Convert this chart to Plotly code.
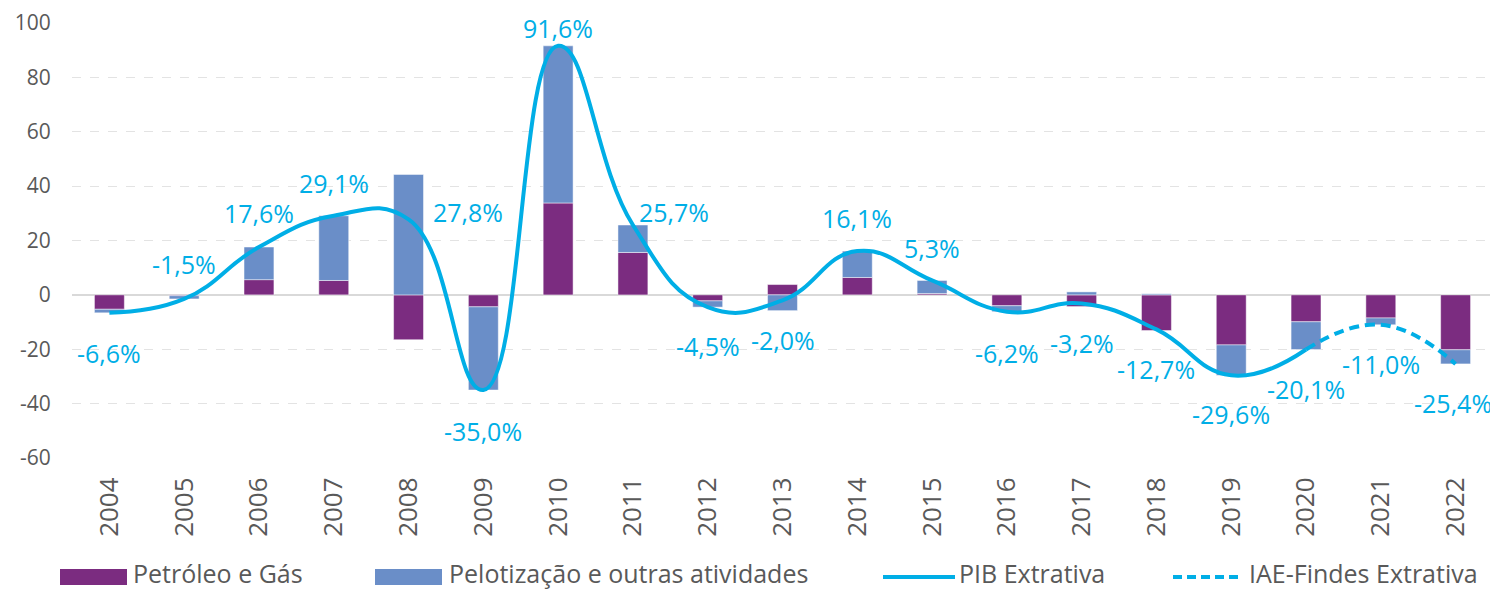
import plotly.graph_objects as go

# ---- data ----
years = [str(y) for y in range(2004, 2023)]
petroleo = [-5.3, -0.3, 5.6, 5.3, -16.5, -4.4, 33.8, 15.6, -2.2, 3.8,
            6.4, 0.5, -4.0, -4.3, -13.1, -18.4, -9.9, -8.5, -20.2]
pelotizacao = [-1.3, -1.2, 12.0, 23.8, 44.3, -30.6, 57.8, 10.1, -2.3, -5.8,
               9.7, 4.8, -2.2, 1.1, 0.4, -11.2, -10.2, -2.5, -5.2]
pib_years = years[:17]
pib = [-6.6, -1.5, 17.6, 29.1, 27.8, -35.0, 91.6, 25.7, -4.5, -2.0,
       16.1, 5.3, -6.2, -3.2, -12.7, -29.6, -20.1]
iae_years = ["2020", "2021", "2022"]
iae = [-20.1, -11.0, -25.4]
y_ticks = [-60, -40, -20, 0, 20, 40, 60, 80, 100]
y_tick_labels = [str(v) for v in y_ticks]

# ---- label placement (layout) ----
label_vals = pib + iae[1:]
label_y = [-21.4, 11.4, 30.2, 41.3, 30.6, -50.1, 98.3, 30.6, -18.8, -16.6,
           28.4, 17.3, -21.4, -17.7, -27.3, -43.8, -34.6, -25.4, -39.8]
label_dx = [0, 0, 0, 0, 59, 0, 0, 41, 0, 0, 0, 0, 0, 0, 0, 0, 0, 0, -3]

PURPLE = "#7B2C80"
BLUE = "#6A8EC8"
CYAN = "#00AEE6"
GREY = "#595959"
FONT = "Open Sans"

fig = go.Figure()
fig.add_trace(go.Bar(x=years, y=petroleo, name="Petróleo e Gás",
                     marker=dict(color=PURPLE, line=dict(color="rgba(255,255,255,0.6)", width=0.8))))
fig.add_trace(go.Bar(x=years, y=pelotizacao, name="Pelotização e outras atividades",
                     marker=dict(color=BLUE, line=dict(color="rgba(255,255,255,0.6)", width=0.8))))
fig.add_trace(go.Scatter(x=pib_years, y=pib, name="PIB Extrativa", mode="lines",
                         line=dict(color=CYAN, width=4, shape="spline", smoothing=1.3)))
fig.add_trace(go.Scatter(x=iae_years, y=iae, name="IAE-Findes Extrativa", mode="lines",
                         line=dict(color=CYAN, width=4, shape="spline", smoothing=1.3, dash="10px,6px")))

def fmt(v):
    return f"{v:.1f}".replace(".", ",") + "%"

annotations = []
for i, (v, ly, dx) in enumerate(zip(label_vals, label_y, label_dx)):
    annotations.append(dict(x=i, y=ly, xref="x", yref="y", text=fmt(v), showarrow=False,
                            xshift=dx, font=dict(family=FONT, size=25, color=CYAN),
                            xanchor="center", yanchor="middle"))

# ---- layout geometry (page has an 8px body margin) ----
OFF = 8
W, H = 1498 - OFF, 590 - OFF
L, R, T, B = 72 - OFF, 1493 - OFF, 23 - OFF, 458 - OFF
def px(xp):
    return (xp - OFF - L) / (R - L)
def py(yp):
    return (B - (yp - OFF)) / (B - T)

shapes = [
    dict(type="rect", xref="paper", yref="paper", x0=px(60), x1=px(127), y0=py(585), y1=py(569),
         fillcolor=PURPLE, line=dict(width=0)),
    dict(type="rect", xref="paper", yref="paper", x0=px(375), x1=px(442), y0=py(585), y1=py(569),
         fillcolor=BLUE, line=dict(width=0)),
    dict(type="line", xref="paper", yref="paper", x0=px(883), x1=px(955), y0=py(577), y1=py(577),
         line=dict(color=CYAN, width=4)),
    dict(type="line", xref="paper", yref="paper", x0=px(1173), x1=px(1243), y0=py(577), y1=py(577),
         line=dict(color=CYAN, width=4, dash="9px,5px")),
]
legend_items = [("Petróleo e Gás", 132), ("Pelotização e outras atividades", 448),
                ("PIB Extrativa", 958), ("IAE-Findes Extrativa", 1248)]
for txt, xp in legend_items:
    annotations.append(dict(x=px(xp), y=py(573), xref="paper", yref="paper", text=txt,
                            showarrow=False, xanchor="left", yanchor="middle",
                            borderpad=0,
                            font=dict(family=FONT, size=25, color=GREY)))

fig.update_layout(
    width=W, height=H,
    margin=dict(l=L, r=W - R, t=T, b=H - B, pad=0, autoexpand=False),
    barmode="relative", bargap=0.6,
    plot_bgcolor="white", paper_bgcolor="white",
    showlegend=False,
    font=dict(family=FONT, color=GREY),
    annotations=annotations, shapes=shapes,
)
fig.update_xaxes(type="category", range=[-0.5, 18.5], tickangle=-90,
                 tickfont=dict(size=26, color=GREY), automargin=False,
                 showgrid=False, showline=False, ticks="outside", ticklen=8,
                 tickcolor="rgba(0,0,0,0)")
fig.update_yaxes(range=[-60, 100], tickvals=y_ticks, ticktext=y_tick_labels,
                 tickfont=dict(size=21, color=GREY), automargin=False,
                 showgrid=True, gridcolor="#E3E3E3", griddash="dash", gridwidth=1,
                 zeroline=True, zerolinecolor="#D9D9D9", zerolinewidth=2,
                 ticks="outside", ticklen=16, tickcolor="rgba(0,0,0,0)")

fig.write_html("out.html")
